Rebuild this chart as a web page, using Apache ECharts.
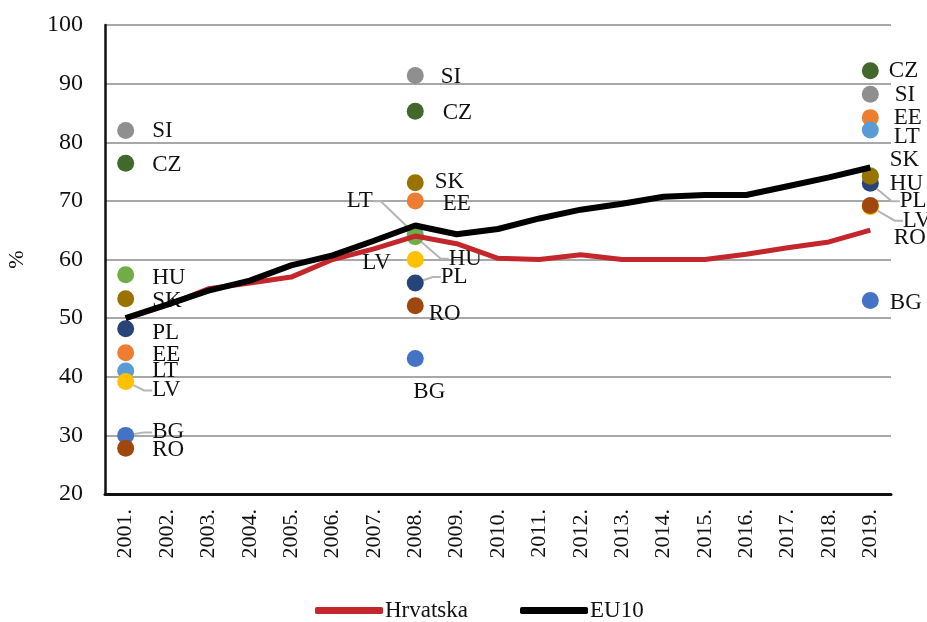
<!DOCTYPE html>
<html>
<head>
<meta charset="utf-8">
<script src="https://cdn.jsdelivr.net/npm/echarts@6/dist/echarts.min.js"></script>
<style>html,body{margin:0;padding:0;background:#fff}#c{width:927px;height:622px}</style>
</head>
<body>
<div id="c"></div>
<script>
// ---- data ----
var years = ['2001.','2002.','2003.','2004.','2005.','2006.','2007.','2008.','2009.','2010.','2011.','2012.','2013.','2014.','2015.','2016.','2017.','2018.','2019.'];
var hrvatska = [50, 52.2, 55, 56, 57, 60, 61.8, 64, 62.7, 60.2, 60, 60.8, 60, 60, 60, 60.9, 62, 63, 65];
var eu10 = [50, 52.3, 54.7, 56.4, 59, 60.7, 63.2, 65.8, 64.3, 65.2, 67, 68.5, 69.5, 70.7, 71, 71, 72.5, 74, 75.7];
var yTicks = [20, 30, 40, 50, 60, 70, 80, 90, 100];
var countryYears = ['2001.', '2008.', '2019.'];
var countries = ['BG', 'CZ', 'EE', 'LT', 'LV', 'HU', 'PL', 'RO', 'SK', 'SI'];
var val2001 = [30, 76.4, 44.1, 41, 39.2, 57.4, 48.2, 27.8, 53.3, 82];
var val2008 = [43.1, 85.3, 70, 64.3, 60, 63.9, 56, 52.1, 73.1, 91.4];
var val2019 = [53, 92.2, 84.2, 82.1, 69, 74.3, 73, 69.2, 74.2, 88.2];

// ---- styles ----
var colors = {BG:'#4472c4', CZ:'#43682b', EE:'#ed7d31', LT:'#5b9bd5', LV:'#ffc000', HU:'#70ad47', PL:'#264478', RO:'#9e480e', SK:'#997300', SI:'#8f8f8f'};
// label placement per country: [2001, 2008, 2019] -> [position, dx, dy, leaderLine]
var place = {
  BG: [['right',13,-3,true], ['bottom',14,8,false], ['right',6,2,false]],
  CZ: [['right',13,2,false], ['right',14,2,false], ['right',5,0,false]],
  EE: [['right',13,2,false], ['right',14,3,false], ['right',10,0,false]],
  LT: [['right',13,0,false], ['left',-29,-33,true], ['right',10,7,false]],
  LV: [['right',13,9,true], ['left',-11,3,false], ['right',19,14,true]],
  HU: [['right',13,3,false], ['right',20,22,true], ['right',6,8,false]],
  PL: [['right',13,4,false], ['right',12,-6,true], ['right',16,18,true]],
  RO: [['right',13,2,false], ['right',0,8,false], ['right',10,32,false]],
  SK: [['right',13,2,false], ['right',6,-1,false], ['right',6,-16,false]],
  SI: [['right',13,0,false], ['right',12,2,false], ['right',11,1,false]]
};
var font = "'Liberation Serif','Times New Roman',serif";

var series = [];
var allVals = [val2001, val2008, val2019];
countries.forEach(function (c, ci) {
  var data = countryYears.map(function (y, yi) {
    var p = place[c][yi];
    return {
      value: [y, allVals[yi][ci]],
      label: {position: p[0]},
      labelLine: {show: p[3]}
    };
  });
  series.push({
    name: c,
    type: 'scatter',
    symbolSize: 17,
    z: 3,
    itemStyle: {color: colors[c], opacity: 1},
    label: {show: true, formatter: c, color: '#111', fontFamily: font, fontSize: 23, distance: 5},
    labelLine: {lineStyle: {color: '#b5b5b5', width: 2}, length2: 8},
    labelLayout: (function (cname) {
      return function (params) {
        var p = place[cname][params.dataIndex];
        return {dx: p[1], dy: p[2]};
      };
    })(c),
    data: data
  });
});
series.push({
  name: 'Hrvatska', type: 'line', data: hrvatska, symbol: 'none', z: 5,
  lineStyle: {color: '#c3262b', width: 5}, itemStyle: {color: '#c3262b'}
});
series.push({
  name: 'EU10', type: 'line', data: eu10, symbol: 'none', z: 6,
  lineStyle: {color: '#000', width: 6}, itemStyle: {color: '#000'}
});

var chart = echarts.init(document.getElementById('c'));
chart.setOption({
  animation: false,
  backgroundColor: '#fff',
  grid: {left: 105, right: 36, top: 25, bottom: 128, containLabel: false, outerBoundsMode: 'none'},
  legend: {
    top: 594, left: 310, itemWidth: 68, itemHeight: 7, itemGap: 52,
    icon: 'roundRect',
    data: ['Hrvatska', 'EU10'],
    textStyle: {fontFamily: font, fontSize: 23, color: '#111', padding: [0, 0, 0, -3]}
  },
  xAxis: {
    type: 'category', data: years, boundaryGap: true,
    axisLine: {lineStyle: {color: '#111', width: 3}},
    axisTick: {show: false},
    axisLabel: {rotate: 90, margin: 15, fontFamily: font, fontSize: 22, color: '#111', interval: 0}
  },
  yAxis: {
    type: 'value', min: yTicks[0], max: yTicks[yTicks.length - 1], interval: 10,
    name: '%', nameLocation: 'middle', nameGap: 77, nameRotate: 90,
    nameTextStyle: {fontFamily: font, fontSize: 22, color: '#111'},
    axisLine: {show: true, lineStyle: {color: '#111', width: 2.5}},
    axisTick: {show: false},
    axisLabel: {margin: 22, fontFamily: font, fontSize: 24, color: '#111'},
    splitLine: {lineStyle: {color: '#a8a8a8', width: 2}}
  },
  series: series
});
</script>
</body>
</html>
